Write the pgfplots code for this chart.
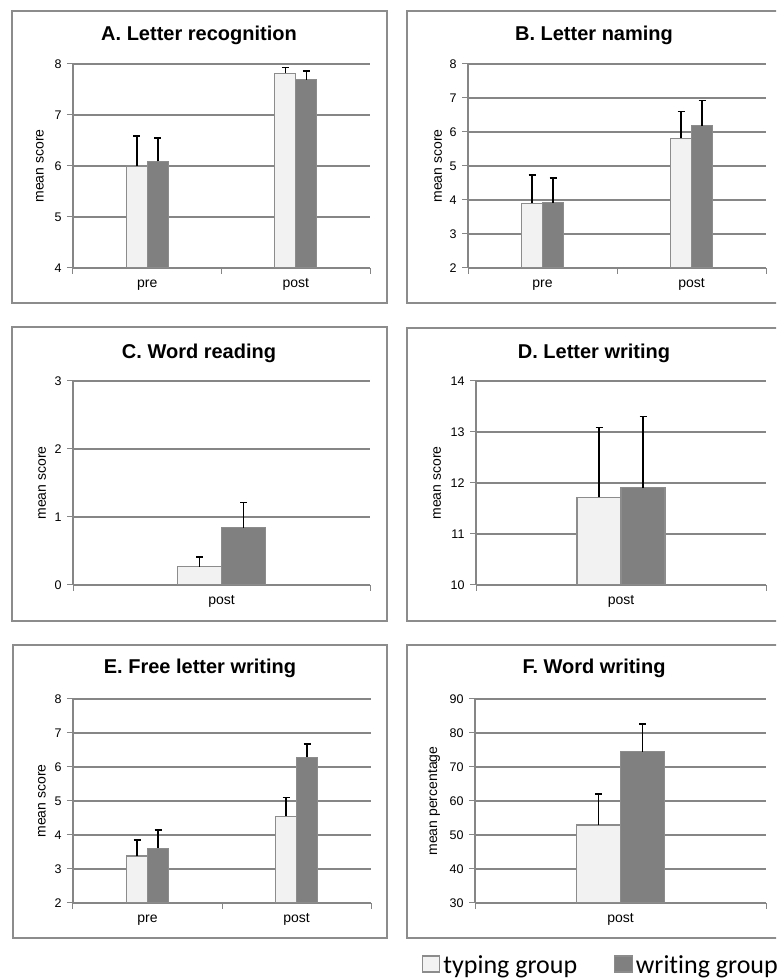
\documentclass[border=0pt]{standalone}
\usepackage{pgfplots}
\pgfplotsset{compat=1.18}
\usepackage{fontspec}
\setmainfont{Liberation Sans}
\newfontfamily\calibri[Ligatures=NoCommon]{Carlito}
\definecolor{gridgray}{HTML}{868686}
\definecolor{boxgray}{HTML}{8C8C8C}
\definecolor{lightbar}{HTML}{F2F2F2}
\definecolor{darkbar}{HTML}{808080}
\definecolor{bargray}{HTML}{8C8C8C}
\pgfplotsset{
 panel/.style={
  scale only axis, height=204pt, anchor=south west,
  ybar=0pt,
  axis x line*=bottom, axis y line*=left,
  axis line style={draw=gridgray, line width=1.5pt},
  ymajorgrids, grid style={draw=gridgray, line width=1.5pt},
  tick align=outside,
  major tick length=6pt,
  tick style={draw=gridgray, line width=1pt},
  yticklabel style={font=\fontsize{12.5}{15}\selectfont, xshift=-2pt},
  xticklabel style={font=\fontsize{14}{16}\selectfont, text height=10pt, text depth=3pt, anchor=north, yshift=-6pt},
  label style={font=\fontsize{14}{16}\selectfont},
  /pgf/number format/assume math mode=true,
  xticklabels={,,,},
  extra x tick style={major tick length=0pt, grid=none},
  ylabel={mean score},
  error bars/y dir=plus, error bars/y explicit,
  error bars/error mark=|,
  error bars/error bar style={black, line width=1.5pt},
  error bars/error mark options={black, line width=1.5pt, mark size=3.5pt},
 },
 two/.style={xmin=-0.5, xmax=1.5, bar width=21pt, xtick={-0.5,0.5,1.5}, extra x ticks={0,1}, extra x tick labels={pre,post}},
 one/.style={xmin=-0.5, xmax=0.5, bar width=44pt, xtick={-0.5,0.5}, extra x ticks={0}, extra x tick labels={post}},
 typing/.style={fill=lightbar, draw=bargray, line width=1.2pt},
 writing/.style={fill=darkbar, draw=bargray, line width=1.2pt},
 tlegend/.style={legend image code/.code={\draw[fill=lightbar, draw=bargray, line width=1.2pt] (0pt,-7pt) rectangle (17pt,9pt);}},
 wlegend/.style={legend image code/.code={\path[draw=none, fill=none] (-34pt,0pt) -- (0pt,0pt); \draw[fill=darkbar, draw=bargray, line width=1.2pt] (0pt,-7pt) rectangle (18pt,9pt);}},
}
\begin{document}
\begin{tikzpicture}
\useasboundingbox (0,0) rectangle (776pt,979pt);
\clip (0,0) rectangle (776pt,979pt);
\fill[white] (0,0) rectangle (776pt,979pt);
% panel boxes
\begin{scope}[draw=boxgray, line width=1.5pt]
\draw (12pt,676pt) rectangle (387pt,968pt);
\draw (407pt,676pt) rectangle (790pt,968pt);
\draw (12pt,358pt) rectangle (387pt,652pt);
\draw (407pt,358pt) rectangle (790pt,651pt);
\draw (13pt,41pt) rectangle (387pt,334pt);
\draw (407pt,41pt) rectangle (790pt,334pt);
\end{scope}
\begin{scope}[font=\fontsize{20}{24}\selectfont\bfseries]
\node at (199pt,944pt) {A. Letter recognition};
\node at (594pt,944pt) {B. Letter naming};
\node at (199pt,626pt) {C. Word reading};
\node at (594pt,626pt) {D. Letter writing};
\node at (200pt,311pt) {E. Free letter writing};
\node at (594pt,311pt) {F. Word writing};
\end{scope}
% A
\begin{axis}[panel, two, at={(73pt,711pt)}, width=297pt, ymin=4, ymax=8, ytick={4,5,6,7,8},
 ylabel style={at={(axis description cs:-0.111,0.5)}, anchor=center}]
\addplot[typing] coordinates {(0,6.00) +- (0,0.59) (1,7.82) +- (0,0.11)};
\addplot[writing] coordinates {(0,6.09) +- (0,0.46) (1,7.69) +- (0,0.17)};
\end{axis}
% B
\begin{axis}[panel, two, at={(468pt,711pt)}, width=298pt, ymin=2, ymax=8, ytick={2,3,4,5,6,7,8},
 ylabel style={at={(axis description cs:-0.100,0.5)}, anchor=center}]
\addplot[typing] coordinates {(0,3.90) +- (0,0.83) (1,5.82) +- (0,0.78)};
\addplot[writing] coordinates {(0,3.92) +- (0,0.73) (1,6.19) +- (0,0.74)};
\end{axis}
% C
\begin{axis}[panel, one, at={(73pt,394pt)}, width=297pt, ymin=0, ymax=3, ytick={0,1,2,3},
 ylabel style={at={(axis description cs:-0.104,0.5)}, anchor=center}]
\addplot[typing] coordinates {(0,0.27) +- (0,0.14)};
\addplot[writing] coordinates {(0,0.84) +- (0,0.37)};
\end{axis}
% D
\begin{axis}[panel, one, at={(476pt,394pt)}, width=290pt, ymin=10, ymax=14, ytick={10,11,12,13,14},
 ylabel style={at={(axis description cs:-0.134,0.5)}, anchor=center}]
\addplot[typing] coordinates {(0,11.72) +- (0,1.37)};
\addplot[writing] coordinates {(0,11.91) +- (0,1.39)};
\end{axis}
% E
\begin{axis}[panel, two, at={(73pt,76pt)}, width=298pt, ymin=2, ymax=8, ytick={2,3,4,5,6,7,8},
 ylabel style={at={(axis description cs:-0.104,0.5)}, anchor=center}]
\addplot[typing] coordinates {(0,3.38) +- (0,0.48) (1,4.55) +- (0,0.55)};
\addplot[writing] coordinates {(0,3.61) +- (0,0.53) (1,6.28) +- (0,0.39)};
\end{axis}
% F
\begin{axis}[panel, one, at={(475pt,76pt)}, width=291pt, ymin=30, ymax=90, ytick={30,40,50,60,70,80,90},
 ylabel={mean percentage},
 ylabel style={at={(axis description cs:-0.141,0.5)}, anchor=center},
 legend columns=2,
 legend style={draw=none, fill=none, inner sep=0pt, anchor=west, at={(-0.182,-0.304)},
   font=\calibri\fontsize{26}{30}\selectfont, nodes={inner sep=3pt}}]
\addplot[typing, tlegend] coordinates {(0,52.95) +- (0,9.15)};
\addplot[writing, wlegend] coordinates {(0,74.46) +- (0,8.14)};
\addlegendentry{typing group}
\addlegendentry{writing group}
\end{axis}
\end{tikzpicture}
\end{document}
